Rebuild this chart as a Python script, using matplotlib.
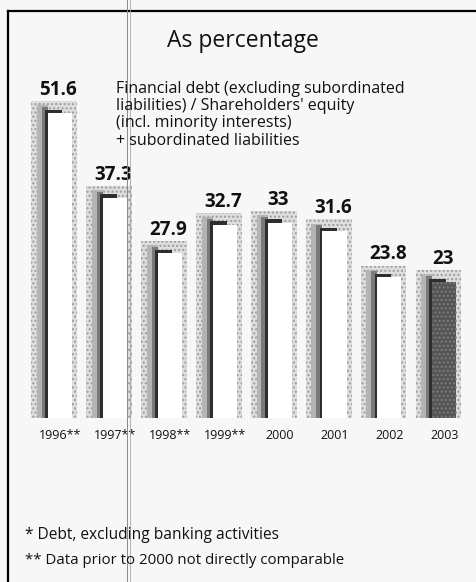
import matplotlib
matplotlib.use("Agg")
import matplotlib.pyplot as plt
from matplotlib.patches import Rectangle
import numpy as np

years = ["1996**", "1997**", "1998**", "1999**", "2000", "2001", "2002", "2003"]
values = [51.6, 37.3, 27.9, 32.7, 33, 31.6, 23.8, 23]
value_labels = ["51.6", "37.3", "27.9", "32.7", "33", "31.6", "23.8", "23"]
title = "As percentage"
description = ("Financial debt (excluding subordinated\n"
               "liabilities) / Shareholders' equity\n"
               "(incl. minority interests)\n"
               "+ subordinated liabilities")
footnotes = ["* Debt, excluding banking activities",
             "** Data prior to 2000 not directly comparable"]

W, H = 477, 582
plt.rcParams['font.family'] = ['Open Sans', 'DejaVu Sans']
plt.rcParams['hatch.linewidth'] = 1.0
fig = plt.figure(figsize=(W / 100, H / 100), dpi=100)
fig.patch.set_facecolor('#f7f7f7')

def fx(px):
    return px / W

def fy(py):
    return 1 - py / H

# axes: bottom at y=418 px (value 0), top at y=11 px
ax = fig.add_axes([fx(8), fy(418), 1 - fx(8), fy(11) - fy(418)])
ax.set_facecolor('none')
ax.set_xlim(-0.947, 7.596)
ax.set_ylim(0, 68.87)
ax.axis('off')

x = np.arange(len(values))
bw = 0.44
for i, v in enumerate(values):
    left = i - bw / 2
    # outer stippled halo
    ax.add_patch(Rectangle((left - 0.30, 0), bw + 0.30 + 0.09, v + 2.0,
                           facecolor='#dedede', edgecolor='none', zorder=1))
    ax.add_patch(Rectangle((left - 0.30, 0), bw + 0.30 + 0.09, v + 2.0,
                           facecolor='none', edgecolor='#9c9c9c', hatch='....',
                           linewidth=0, zorder=1.1))
    # inner darker band
    ax.add_patch(Rectangle((left - 0.20, 0), 0.20, v + 1.3,
                           facecolor='#b4b4b4', edgecolor='none', zorder=1.3))
    ax.add_patch(Rectangle((left - 0.11, 0), 0.11, v + 1.0,
                           facecolor='#7a7a7a', edgecolor='none', zorder=1.4))
    ax.add_patch(Rectangle((left - 0.05, 0), bw * 0.7, v + 0.6,
                           facecolor='#2e2e2e', edgecolor='none', zorder=1.6))
ax.bar(x[:-1], values[:-1], width=bw, color='white', edgecolor='none', zorder=2)
ax.bar(x[-1:], values[-1:], width=bw, color='#555555', edgecolor='none', zorder=2)
ax.bar(x[-1:], values[-1:], width=bw, color='none', edgecolor='#7c7c7c',
       linewidth=0, hatch='....', zorder=2.1)
for i, (v, lab) in enumerate(zip(values, value_labels)):
    ax.text(i - 0.03, v + 2.2, lab, ha='center', va='bottom', fontsize=13.5,
            fontweight='bold', color='#111111', zorder=3)

# year labels
for i, yl in enumerate(years):
    ax.text(i, -1.9, yl, ha='center', va='top', fontsize=9, color='#111111',
            clip_on=False)

# frame lines
fig.add_artist(plt.Line2D([fx(8), fx(8)], [0, fy(11)], color='black', lw=1.6))
fig.add_artist(plt.Line2D([fx(8), 1], [fy(11), fy(11)], color='black', lw=1.6))
# scan crease line
fig.add_artist(plt.Line2D([fx(127.5), fx(127.5)], [0, 1], color='#8a8a8a', lw=0.7))
fig.add_artist(plt.Line2D([fx(129.5), fx(129.5)], [0, 1], color='#a8a8a8', lw=0.6))

fig.text(fx(243), fy(41), title, ha='center', va='center', fontsize=16.5,
         color='#111111')
fig.text(fx(116), fy(81), description, ha='left', va='top', fontsize=11.5,
         color='#111111', linespacing=1.1)
fig.text(fx(25), fy(539), footnotes[0], ha='left', va='baseline', fontsize=11.2,
         color='#111111')
fig.text(fx(25), fy(564), footnotes[1], ha='left', va='baseline', fontsize=10.8,
         color='#111111')

fig.savefig("out.png", dpi=100, facecolor=fig.get_facecolor())
